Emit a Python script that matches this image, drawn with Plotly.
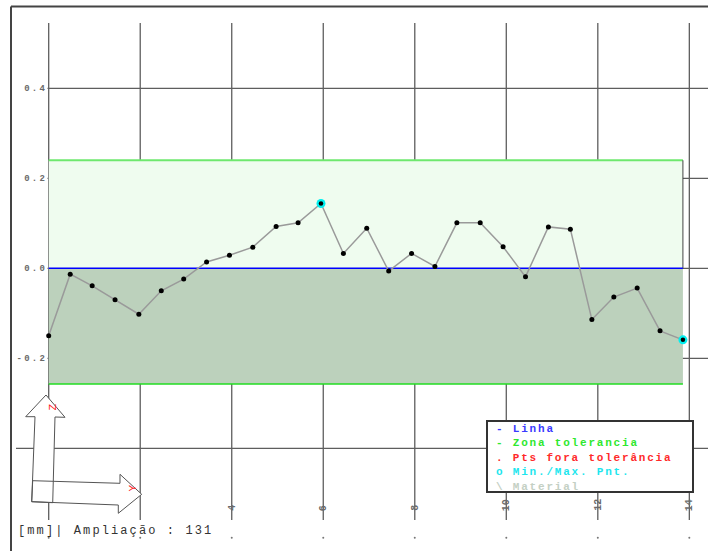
import plotly.graph_objects as go

# Measured profile: position along the part [mm] and deviation [mm]
pos_mm = [0.00, 0.47, 0.95, 1.45, 1.97, 2.46, 2.95, 3.45, 3.95, 4.46,
          4.97, 5.45, 5.95, 6.44, 6.95, 7.43, 7.93, 8.44, 8.92, 9.43,
          9.93, 10.42, 10.92, 11.40, 11.87, 12.35, 12.86, 13.36, 13.86]
dev_mm = [-0.150, -0.013, -0.039, -0.070, -0.102, -0.050, -0.024, 0.014, 0.029, 0.047,
          0.093, 0.101, 0.144, 0.033, 0.089, -0.006, 0.033, 0.004, 0.101, 0.101,
          0.048, -0.019, 0.092, 0.087, -0.114, -0.064, -0.044, -0.139, -0.159]

# Tolerance band and nominal line
tol_upper = 0.24
tol_lower = -0.257
nominal = 0.0

# Grid / tick definitions
x_grid = [0, 2, 4, 6, 8, 10, 12, 14]
x_tick_labels = ["4", "6", "8", "10", "12", "14"]
x_tick_vals = [4, 6, 8, 10, 12, 14]
y_grid = [0.4, 0.2, 0.0, -0.2, -0.4]
y_tick_vals = [0.4, 0.2, 0.0, -0.2]
y_tick_labels = ["0.4", "0.2", "0.0", "-0.2"]

legend_items = [("- Linha", "#3a3aff"),
                ("- Zona tolerancia", "#2ee82e"),
                (". Pts fora tolerância", "#ff2a2a"),
                ("o Min./Max. Pnt.", "#1ee6ee"),
                ("\\ Material", "#c4d0c4")]
footer = "[mm]| Ampliação : 131"

W, H = 708, 551


def fx(p):
    return p / W


def fy(p):
    return 1 - p / H


MONO = "Liberation Mono, Courier New, monospace"


def spaced(text, sp):
    return f'<span style="letter-spacing:{sp}px">{text}</span>'


x_range = [-1.0643, 14.408]
y_range = [-0.6282, 0.5962]

fig = go.Figure()
shapes = []
annotations = []

x0, x1 = pos_mm[0], pos_mm[-1]

# tolerance zones
shapes.append(dict(type="rect", xref="x", yref="y", x0=x0, x1=x1, y0=nominal, y1=tol_upper,
                   fillcolor="#effcef", line=dict(width=0), layer="below"))
shapes.append(dict(type="rect", xref="x", yref="y", x0=x0, x1=x1, y0=tol_lower, y1=nominal,
                   fillcolor="#bcd1bc", line=dict(width=0), layer="below"))

# grid lines
for gx in x_grid:
    shapes.append(dict(type="line", xref="x", yref="paper", x0=gx, x1=gx,
                       y0=fy(23), y1=fy(520), line=dict(color="#5e5e5e", width=1.3), layer="below"))
for gy in y_grid:
    shapes.append(dict(type="line", xref="paper", yref="y", x0=fx(16), x1=1,
                       y0=gy, y1=gy, line=dict(color="#5e5e5e", width=1.3), layer="below"))

# tolerance borders
shapes.append(dict(type="line", xref="x", yref="y", x0=x0, x1=x1, y0=tol_upper, y1=tol_upper,
                   line=dict(color="#6ee86e", width=2), layer="below"))
shapes.append(dict(type="line", xref="x", yref="y", x0=x0, x1=x1, y0=tol_lower, y1=tol_lower,
                   line=dict(color="#22dd22", width=1.5), layer="below"))
shapes.append(dict(type="line", xref="x", yref="y", x0=x1, x1=x1, y0=nominal, y1=tol_upper,
                   line=dict(color="#444444", width=1), layer="below"))
# nominal line
shapes.append(dict(type="line", xref="x", yref="y", x0=x0, x1=x1, y0=nominal, y1=nominal,
                   line=dict(color="#0000ff", width=1.5), layer="below"))

# frame
shapes.append(dict(type="line", xref="paper", yref="paper", x0=fx(11), x1=1, y0=fy(6.5), y1=fy(6.5),
                   line=dict(color="#444444", width=2)))
shapes.append(dict(type="line", xref="paper", yref="paper", x0=fx(11), x1=fx(11), y0=fy(6.5), y1=0,
                   line=dict(color="#444444", width=2)))

# coordinate arrows (Z up, Y right)
z_arrow = [(46, 395), (65, 417.3), (55, 417), (52.7, 502.7), (31.7, 501.7), (35, 416.7), (25.7, 416.7)]
y_arrow = [(32.7, 480.7), (120, 483.3), (120, 474.3), (141.7, 494.3), (118.3, 513.3),
           (118.3, 505), (31.7, 501.7)]


def poly(pts):
    return "M " + " L ".join(f"{fx(a):.5f},{fy(b):.5f}" for a, b in pts) + " Z"


for pts in (z_arrow, y_arrow):
    shapes.append(dict(type="path", xref="paper", yref="paper", path=poly(pts),
                       fillcolor="white", line=dict(width=0), layer="above"))
for pts in (z_arrow, y_arrow):
    shapes.append(dict(type="path", xref="paper", yref="paper", path=poly(pts),
                       fillcolor="rgba(0,0,0,0)", line=dict(color="#555555", width=1), layer="above"))

annotations.append(dict(xref="paper", yref="paper", x=fx(44), y=fy(413), text="Z", showarrow=False,
                        textangle=-90, font=dict(family=MONO, size=11, color="#ff2020")))
annotations.append(dict(xref="paper", yref="paper", x=fx(124), y=fy(494), text="Y", showarrow=False,
                        textangle=-90, font=dict(family=MONO, size=11, color="#ff2020")))

# legend box
shapes.append(dict(type="rect", xref="paper", yref="paper", x0=fx(487), x1=fx(693), y0=fy(421), y1=fy(492),
                   fillcolor="white", line=dict(color="#333333", width=2), layer="above"))
leg_y = [429, 443.3, 457.7, 472.3, 486.5]
for (txt, col), ly in zip(legend_items, leg_y):
    annotations.append(dict(xref="paper", yref="paper", x=fx(494), y=fy(ly), text=spaced(txt, 1.8),
                            showarrow=False, xanchor="left", yanchor="middle",
                            font=dict(family=MONO, size=11, color=col, weight="bold")))

# y tick labels on a white box that hides the grid behind them
for v, lab in zip(y_tick_vals, y_tick_labels):
    annotations.append(dict(xref="paper", yref="y", x=fx(48.5), y=v, yshift=-1, text=spaced(lab, 2.2),
                            showarrow=False, xanchor="right", yanchor="middle", bgcolor="white",
                            width=34, align="right", borderpad=0,
                            font=dict(family=MONO, size=9, color="#6a6a6a", weight="bold")))

# x tick labels, rotated
for v, lab in zip(x_tick_vals, x_tick_labels):
    annotations.append(dict(xref="x", yref="paper", x=v, y=fy(513), text=lab, showarrow=False,
                            textangle=-90, xanchor="center", yanchor="bottom",
                            font=dict(family=MONO, size=10, color="#6a6a6a", weight="bold")))

# footer
annotations.append(dict(xref="paper", yref="paper", x=fx(16), y=fy(531), text=spaced(footer, 2.1),
                        showarrow=False, xanchor="left", yanchor="middle",
                        font=dict(family=MONO, size=12, color="#333333")))

# tiny tick dots under the grid
fig.add_trace(go.Scatter(x=x_grid, y=[-0.599] * len(x_grid), mode="markers",
                         marker=dict(size=2, color="#777777"), hoverinfo="skip"))

# measured profile
fig.add_trace(go.Scatter(x=pos_mm, y=dev_mm, mode="lines+markers",
                         line=dict(color="#9a9a9a", width=1.5),
                         marker=dict(size=5, color="black")))

# min / max points
i_max = max(range(len(dev_mm)), key=lambda i: dev_mm[i])
i_min = min(range(len(dev_mm)), key=lambda i: dev_mm[i])
ext_x = [pos_mm[i_max], pos_mm[i_min]]
ext_y = [dev_mm[i_max], dev_mm[i_min]]
fig.add_trace(go.Scatter(x=ext_x, y=ext_y, mode="markers",
                         marker=dict(size=9, color="#00f0f0", line=dict(width=0))))
fig.add_trace(go.Scatter(x=ext_x, y=ext_y, mode="markers",
                         marker=dict(size=4.5, color="black")))

fig.update_layout(
    width=W, height=H, autosize=False,
    margin=dict(l=0, r=0, t=0, b=0),
    paper_bgcolor="white", plot_bgcolor="white",
    showlegend=False,
    xaxis=dict(range=x_range, visible=False, fixedrange=True),
    yaxis=dict(range=y_range, visible=False, fixedrange=True),
    shapes=shapes, annotations=annotations,
)

fig.write_html("out.html")
